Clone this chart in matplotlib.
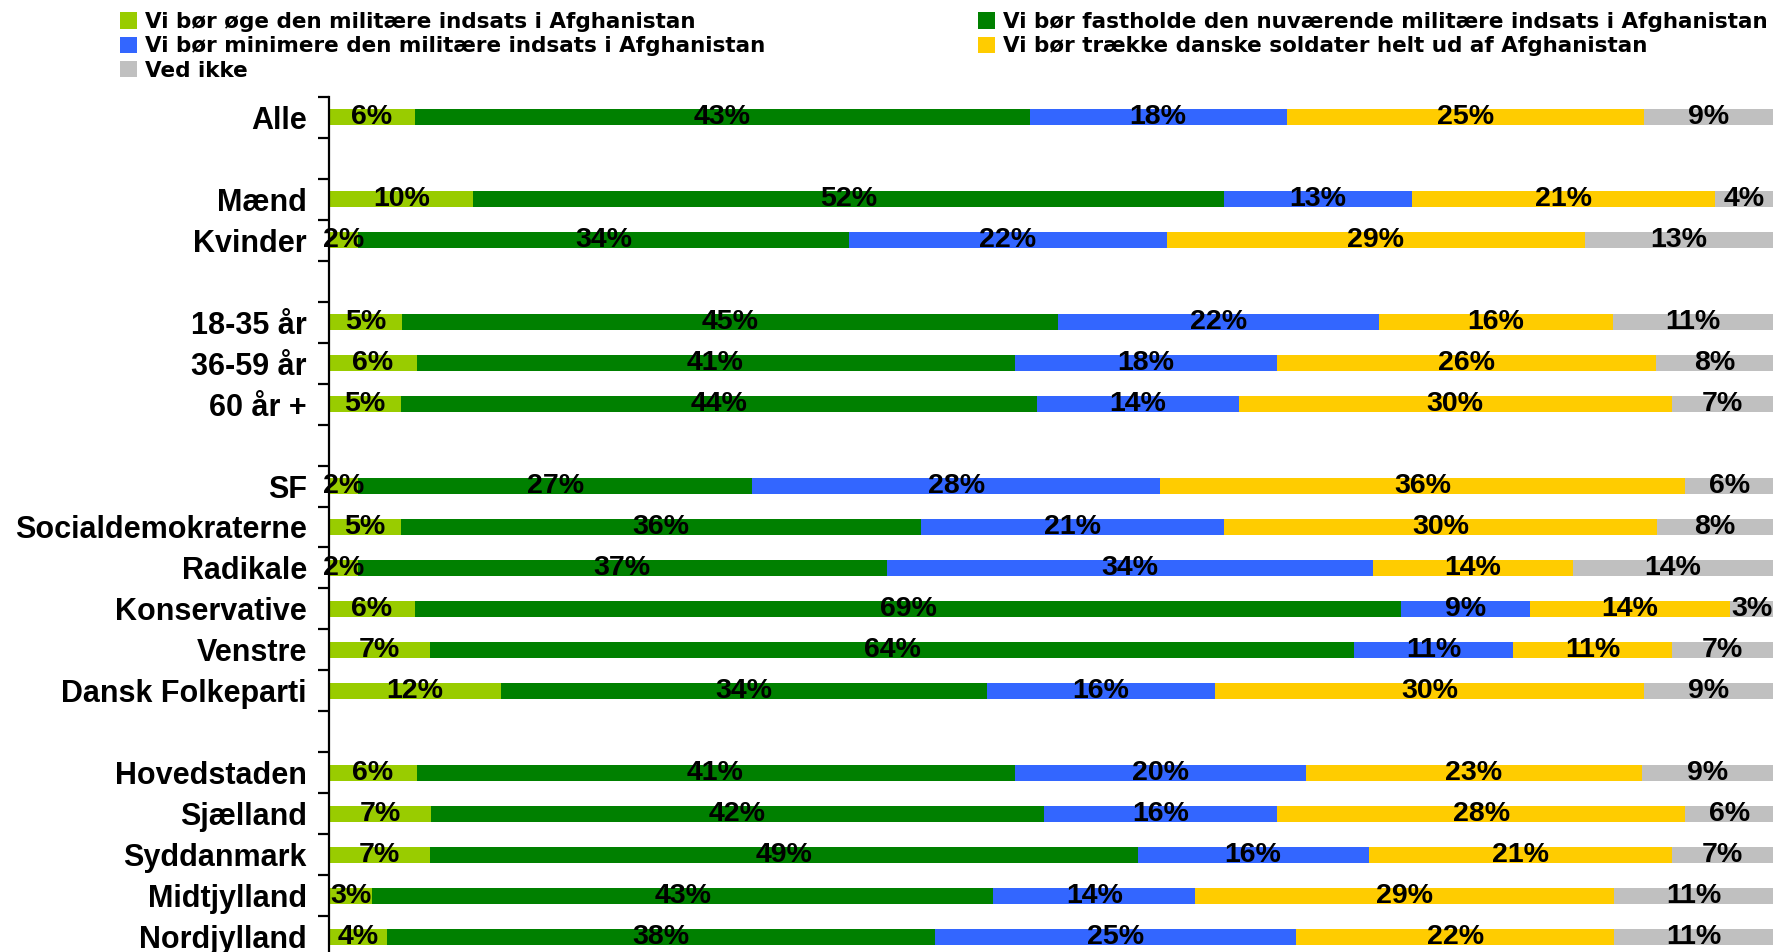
import numpy as np
import matplotlib
matplotlib.use("Agg")
import matplotlib.pyplot as plt
from matplotlib.patches import Patch

nan = np.nan

categories = ["Alle", "", "Mænd", "Kvinder", "", "18-35 år", "36-59 år", "60 år +", "",
              "SF", "Socialdemokraterne", "Radikale", "Konservative", "Venstre", "Dansk Folkeparti", "",
              "Hovedstaden", "Sjælland", "Syddanmark", "Midtjylland", "Nordjylland"]

series_names = ["Vi bør øge den militære indsats i Afghanistan",
                "Vi bør fastholde den nuværende militære indsats i Afghanistan",
                "Vi bør minimere den militære indsats i Afghanistan",
                "Vi bør trække danske soldater helt ud af Afghanistan",
                "Ved ikke"]

increase = [6, nan, 10, 2, nan, 5, 6, 5, nan, 2, 5, 2, 6, 7, 12, nan, 6, 7, 7, 3, 4]
maintain = [43, nan, 52, 34, nan, 45, 41, 44, nan, 27, 36, 37, 69, 64, 34, nan, 41, 42, 49, 43, 38]
minimize = [18, nan, 13, 22, nan, 22, 18, 14, nan, 28, 21, 34, 9, 11, 16, nan, 20, 16, 16, 14, 25]
withdraw = [25, nan, 21, 29, nan, 16, 26, 30, nan, 36, 30, 14, 14, 11, 30, nan, 23, 28, 21, 29, 22]
dontknow = [9, nan, 4, 13, nan, 11, 8, 7, nan, 6, 8, 14, 3, 7, 9, nan, 9, 6, 7, 11, 11]

colors = ["#99CC00", "#008000", "#3366FF", "#FFCC00", "#C0C0C0"]

W, H = 1776, 952
fig = plt.figure(figsize=(W / 100, H / 100), dpi=100)
ax = fig.add_axes([329 / W, (H - 957) / H, 1444 / W, 860 / H])

data = np.array([increase, maintain, minimize, withdraw, dontknow], dtype=float)
valid = ~np.isnan(data[0])
ypos = np.arange(len(categories))[valid]
vals = data[:, valid]
totals = vals.sum(axis=0)
shares = vals / totals

pct_font = dict(family=["Liberation Sans", "DejaVu Sans"], weight="bold", size=20.5)
cat_font = dict(family=["Liberation Sans", "DejaVu Sans"], weight="bold", size=22)

left = np.zeros(len(ypos))
for i in range(5):
    bars = ax.barh(ypos, shares[i], left=left, height=0.39, color=colors[i], edgecolor="none")
    ax.bar_label(bars, labels=[f"{int(v)}%" for v in vals[i]], label_type="center",
                 color="black", **pct_font)
    left += shares[i]

ax.set_xlim(0, 1)
ax.set_ylim(len(categories) - 0.5, -0.5)

ax.set_yticks(np.arange(len(categories)))
ax.set_yticklabels(categories, **cat_font)
ax.tick_params(axis="y", which="major", length=0, pad=16)
ax.set_yticks(np.arange(len(categories) + 1) - 0.5, minor=True)
ax.tick_params(axis="y", which="minor", length=8, width=1.6, direction="out", color="black")
ax.set_xticks([])

for s in ["top", "right", "bottom"]:
    ax.spines[s].set_visible(False)
ax.spines["left"].set_linewidth(1.6)
ax.spines["left"].set_color("black")

handles = [Patch(facecolor=c, edgecolor="none") for c in colors]
order = [0, 2, 4, 1, 3]
leg = fig.legend([handles[k] for k in order], [series_names[k] for k in order],
                 loc="upper left", bbox_to_anchor=(120 / W, 1 - 12 / H), ncol=2,
                 frameon=False, borderpad=0, borderaxespad=0,
                 handlelength=0.8, handleheight=0.8, handletextpad=0.35,
                 labelspacing=0.2, columnspacing=9.9,
                 prop=dict(family=["DejaVu Sans"], weight="bold", size=15.5))

fig.savefig("out.png", dpi=100)
